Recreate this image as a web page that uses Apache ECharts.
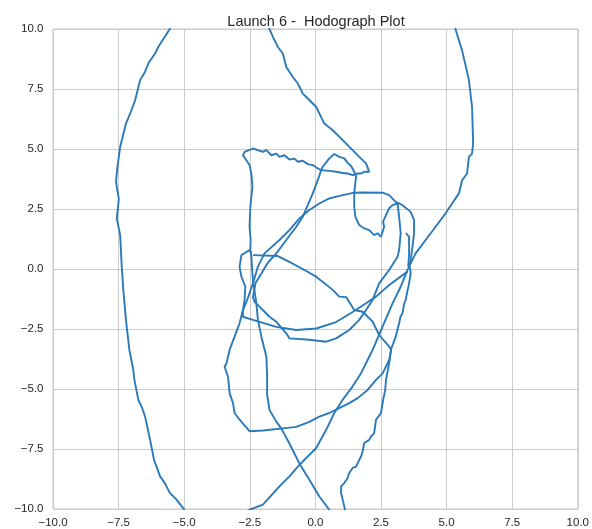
<!DOCTYPE html>
<html><head><meta charset="utf-8">
<script src="https://cdn.jsdelivr.net/npm/echarts@6/dist/echarts.min.js"></script>
<style>html,body{margin:0;padding:0;background:#fff}#c{width:592px;height:529px}</style>
</head><body><div id="c"></div>
<script>
const titleText = "Launch 6 -  Hodograph Plot";
const xTicks = [-10, -7.5, -5, -2.5, 0, 2.5, 5, 7.5, 10];
const yTicks = [-10, -7.5, -5, -2.5, 0, 2.5, 5, 7.5, 10];

const segLeftArc = [[-5.45,10.3],[-5.55,10.0],[-5.99,9.25],[-6.1,9.0],[-6.37,8.56],[-6.5,8.2],[-6.68,7.87],[-6.87,7.03],[-7.05,6.5],[-7.22,6.06],[-7.44,5.09],[-7.55,4.2],[-7.6,3.63],[-7.49,2.91],[-7.57,2.11],[-7.44,1.41],[-7.38,0.10],[-7.32,-0.88],[-7.22,-2.12],[-7.09,-3.37],[-6.94,-4.2],[-6.9,-4.6],[-6.75,-5.44],[-6.6,-5.8],[-6.49,-6.15],[-6.30,-7.12],[-6.15,-7.95],[-5.92,-8.64],[-5.75,-8.9],[-5.55,-9.33],[-5.3,-9.6],[-5.04,-9.96],[-4.9,-10.2]];

const segRightArc = [[5.3,10.3],[5.34,9.99],[5.59,9.11],[5.85,7.87],[5.97,6.75],[6.01,5.23],[5.97,4.81],[5.85,4.67],[5.78,3.98],[5.59,3.70],[5.47,3.15],[5.21,2.73],[4.96,2.32],[4.58,1.76],[4.20,1.21],[3.82,0.65],[3.57,0.10],[3.51,-0.04],[3.25,-0.74],[2.94,-1.43],[2.56,-2.40],[2.18,-3.37],[1.99,-3.79],[1.74,-4.34],[1.42,-4.89],[1.04,-5.45],[0.72,-6.0],[0.41,-6.70],[0.03,-7.46],[-0.61,-8.16],[-0.99,-8.64],[-1.37,-9.06],[-2.0,-9.82],[-2.51,-10.03],[-2.8,-10.2]];

const segTop = [[-1.8,10.3],[-1.75,10.0],[-1.62,9.67],[-1.43,9.25],[-1.24,8.98],[-1.11,8.42],[-0.86,8.0],[-0.67,7.73],[-0.48,7.31],[-0.23,7.04],[0.03,6.75],[0.34,6.06],[0.66,5.78],[1.04,5.37],[1.42,4.95],[1.67,4.67],[1.93,4.40],[2.05,4.05],[1.99,4.12],[1.86,4.05],[1.74,3.98],[1.61,3.98],[1.42,3.91],[1.23,3.98],[1.04,4.0],[0.79,4.05],[0.53,4.09],[0.22,4.12],[0.09,4.19],[-0.10,4.33],[-0.29,4.37],[-0.48,4.51],[-0.67,4.47],[-0.80,4.6],[-0.99,4.56],[-1.18,4.74],[-1.37,4.67],[-1.49,4.81],[-1.68,4.74],[-1.87,4.95],[-2.0,4.88],[-2.38,5.02],[-2.70,4.88],[-2.76,4.74],[-2.70,4.67],[-2.51,4.33],[-2.44,3.97],[-2.40,3.42],[-2.44,3.0],[-2.48,2.59],[-2.51,1.76],[-2.47,1.21],[-2.48,0.79],[-2.44,0.51],[-2.41,-0.04],[-2.38,-0.46],[-2.25,-1.43],[-2.19,-2.12],[-2.06,-2.82],[-1.87,-3.65],[-1.84,-4.41],[-1.84,-5.24],[-1.75,-5.87],[-1.49,-6.36],[-1.30,-6.64],[-0.99,-7.27],[-0.61,-8.1],[-0.23,-8.78],[0.15,-9.48],[0.53,-10.03],[0.6,-10.2]];

const segLoop = [[0.22,4.12],[0.09,3.70],[-0.10,3.15],[-0.29,2.66],[-0.48,2.18],[-0.73,1.76],[-1.11,1.21],[-1.49,0.65],[-1.82,0.25],[-2.05,-0.17],[-2.28,-0.58],[-2.38,-1.17],[-2.32,-1.37],[-2.13,-1.57],[-1.75,-1.99],[-1.49,-2.20],[-1.11,-2.68],[-0.99,-2.89],[-0.23,-2.95],[0.41,-3.03],[0.79,-2.89],[1.29,-2.54],[1.67,-2.12],[1.93,-1.71],[2.18,-1.29],[2.43,-0.60],[2.81,-0.04],[3.13,0.51],[3.19,0.79],[3.25,1.49],[3.19,2.18],[3.13,2.73],[2.94,2.66],[2.81,2.53],[2.69,2.25],[2.58,1.97],[2.62,1.76],[2.56,1.55],[2.50,1.34],[2.37,1.49],[2.24,1.41],[2.05,1.62],[1.86,1.69],[1.67,1.83],[1.52,2.18],[1.48,2.59],[1.48,3.16],[1.52,3.58],[1.55,3.84],[1.48,4.05],[1.36,4.29],[1.23,4.42],[1.10,4.61],[0.91,4.67],[0.72,4.79],[0.53,4.61],[0.28,4.26],[0.22,4.12]];

const segUpper = [[3.57,0.10],[3.63,0.37],[3.70,0.93],[3.76,1.49],[3.76,2.04],[3.63,2.38],[3.32,2.66],[3.06,2.80],[2.81,3.08],[2.56,3.18],[1.80,3.19],[1.48,3.18],[1.04,3.08],[0.53,2.94],[0.15,2.73],[-0.23,2.46],[-0.61,2.11],[-0.99,1.62],[-1.37,1.21],[-1.94,0.65],[-2.19,0.10],[-2.38,-0.60],[-2.60,-1.29],[-2.77,-1.75],[-2.76,-1.99],[-2.38,-2.12],[-1.49,-2.41],[-0.73,-2.54],[0.03,-2.48],[0.79,-2.21],[1.42,-1.79],[1.93,-1.43],[2.31,-1.15],[2.81,-0.67],[3.51,-0.11]];

const segSouthWest = [[-2.44,0.65],[-2.51,0.79],[-2.82,0.58],[-2.89,0.10],[-2.82,-0.32],[-2.67,-0.74],[-2.70,-1.29],[-2.76,-1.71],[-2.89,-2.26],[-3.08,-2.82],[-3.27,-3.37],[-3.39,-3.94],[-3.46,-4.07],[-3.33,-4.49],[-3.27,-5.17],[-3.14,-5.59],[-3.08,-6.0],[-2.89,-6.28],[-2.51,-6.76],[-2.0,-6.73],[-1.24,-6.64],[-0.73,-6.58],[-0.23,-6.37],[0.15,-6.15],[0.53,-6.0],[0.91,-5.80],[1.29,-5.59],[1.61,-5.38],[1.99,-5.04],[2.31,-4.62],[2.56,-4.35],[2.81,-3.79],[2.89,-3.37]];

const segDiagonal = [[-2.38,0.58],[-1.43,0.54],[-0.99,0.30],[-0.54,0.03],[0.03,-0.32],[0.66,-0.87],[0.91,-1.15],[1.17,-1.17],[1.48,-1.71],[1.80,-1.78],[2.18,-2.19],[2.43,-2.75],[2.81,-3.23],[2.89,-3.37]];

const segZigzag = [[3.60,0.10],[3.63,-0.18],[3.57,-0.6],[3.50,-0.95],[3.44,-1.29],[3.38,-1.45],[3.32,-1.84],[3.24,-2.0],[3.19,-2.26],[3.06,-2.82],[2.95,-3.15],[2.88,-3.35],[2.83,-3.8],[2.76,-4.2],[2.69,-4.62],[2.66,-5.04],[2.58,-5.45],[2.50,-6.0],[2.40,-6.15],[2.31,-6.28],[2.24,-6.84],[2.12,-6.98],[2.05,-7.12],[1.86,-7.25],[1.80,-7.60],[1.74,-7.81],[1.67,-7.95],[1.55,-8.23],[1.42,-8.29],[1.29,-8.50],[1.23,-8.71],[1.10,-8.92],[0.98,-9.06],[0.98,-9.34],[1.04,-9.61],[1.10,-9.89],[1.16,-10.2]];

const segShort = [[3.45,1.49],[3.57,1.34],[3.57,0.65],[3.54,0.10]];

const segments = [segLeftArc, segRightArc, segTop, segLoop, segUpper, segSouthWest, segDiagonal, segZigzag, segShort];

const fmt = v => (v < 0 ? '\u2212' : '') + Math.abs(v).toFixed(1);
const chart = echarts.init(document.getElementById('c'));
chart.setOption({
  animation: false,
  backgroundColor: '#ffffff',
  title: { text: titleText, left: 311, top: 9, textAlign: 'center',
    textStyle: { fontFamily: 'Liberation Sans, Arial, sans-serif', fontSize: 14.5, fontWeight: 'normal', color: '#262626' } },
  grid: { left: 53, right: 13, top: 29, bottom: 20, show: true, borderColor: '#cccccc', borderWidth: 1, containLabel: false },
  xAxis: { type: 'value', min: -10, max: 10, interval: 2.5,
    axisLine: { show: false }, axisTick: { show: false },
    splitLine: { lineStyle: { color: '#cccccc', width: 1 } },
    axisLabel: { formatter: fmt, color: '#262626', fontSize: 11.5, margin: 8, fontFamily: 'Liberation Sans, Arial, sans-serif',
      showMinLabel: true, showMaxLabel: true } },
  yAxis: { type: 'value', min: -10, max: 10, interval: 2.5,
    axisLine: { show: false }, axisTick: { show: false },
    splitLine: { lineStyle: { color: '#cccccc', width: 1 } },
    axisLabel: { formatter: fmt, color: '#262626', fontSize: 11.5, margin: 9.5, fontFamily: 'Liberation Sans, Arial, sans-serif',
      showMinLabel: true, showMaxLabel: true } },
  series: segments.map(d => ({
    type: 'line', data: d, showSymbol: false, symbol: 'none', clip: true, smooth: false,
    lineStyle: { color: '#2a7ab9', width: 1.9 }, z: 3
  }))
});
</script></body></html>
